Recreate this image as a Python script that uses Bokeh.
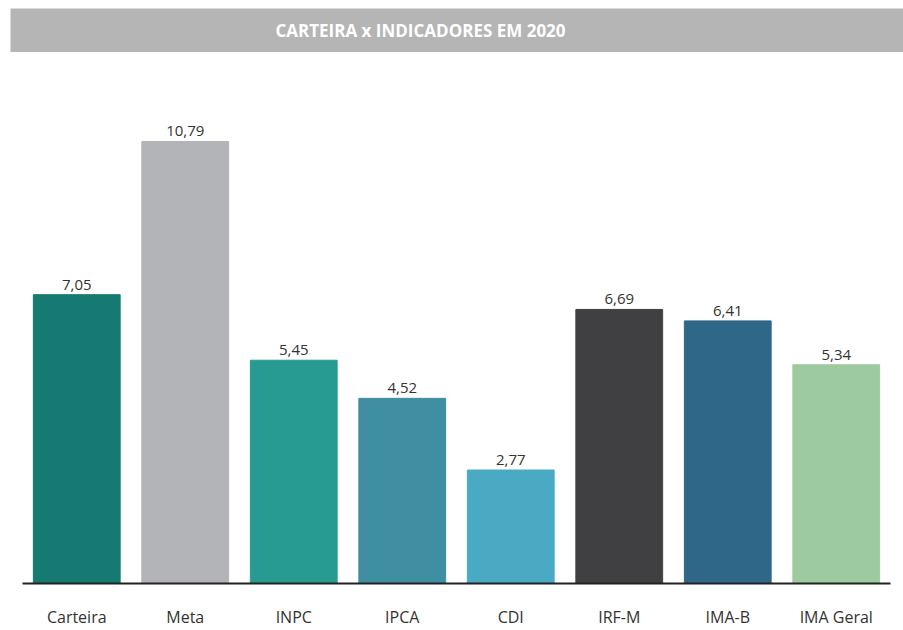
from bokeh.plotting import figure
from bokeh.models import ColumnDataSource, Range1d, Label, LabelSet, Spacer
from bokeh.layouts import column, row
from bokeh.core.properties import value
from bokeh.embed import file_html
from bokeh.resources import INLINE

categories = ["Carteira", "Meta", "INPC", "IPCA", "CDI", "IRF-M", "IMA-B", "IMA Geral"]
values = [7.05, 10.79, 5.45, 4.52, 2.77, 6.69, 6.41, 5.34]
value_labels = ["7,05", "10,79", "5,45", "4,52", "2,77", "6,69", "6,41", "5,34"]
colors = ["#157a72", "#b3b4b8", "#279a91", "#3f8ea2", "#4aaac4", "#404042", "#2f6788", "#9dcb9f"]
title_text = "CARTEIRA x INDICADORES EM 2020"

BAND_W = 893
BAND_GRAY = "#b5b5b5"

# Title band
band = figure(width=BAND_W, height=44, toolbar_location=None, output_backend="svg",
              x_range=Range1d(0, BAND_W), y_range=Range1d(0, 44),
              x_axis_location=None, y_axis_location=None,
              min_border=0, min_border_left=0, min_border_right=0,
              min_border_top=0, min_border_bottom=0)
band.grid.visible = False
band.outline_line_color = None
band.background_fill_color = BAND_GRAY
band.border_fill_color = BAND_GRAY
band.add_layout(Label(x=410, y=22, text=title_text, text_align="center",
                      text_baseline="middle", text_color="white",
                      text_font="Open Sans", text_font_style="bold",
                      text_font_size="17px"))

# Main chart
src = ColumnDataSource(dict(cat=categories, val=values, lab=value_labels, col=colors))

p = figure(width=903, height=578, toolbar_location=None, output_backend="svg",
           x_range=categories, y_range=Range1d(0, 11.79),
           min_border_left=22, min_border_right=13, min_border_top=48,
           min_border_bottom=45)
p.vbar(x="cat", top="val", width=0.8, color="col", source=src)
p.add_layout(LabelSet(x="cat", y="val", text="lab", source=src, y_offset=5,
                      text_align="center", text_baseline="bottom",
                      text_font=value("Open Sans"), text_font_size="15px",
                      text_color="#333333"))
p.yaxis.visible = False
p.grid.visible = False
p.outline_line_color = None
p.xaxis.axis_line_color = "#222222"
p.xaxis.axis_line_width = 2
p.xaxis.major_tick_line_color = None
p.xaxis.minor_tick_line_color = None
p.xaxis.major_label_standoff = 16
p.xaxis.major_label_text_font = "Open Sans"
p.xaxis.major_label_text_font_size = "16px"
p.xaxis.major_label_text_color = "#333333"
p.x_range.range_padding = 0

layout = column(Spacer(height=8), row(Spacer(width=10), band), p)
open("out.html", "w").write(file_html(layout, INLINE))
